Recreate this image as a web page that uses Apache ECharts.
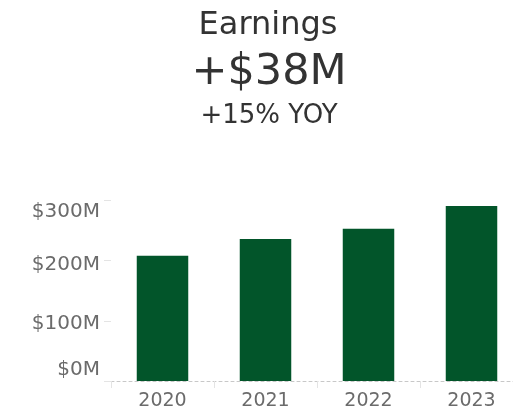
<!DOCTYPE html>
<html>
<head>
<meta charset="utf-8">
<script src="https://cdn.jsdelivr.net/npm/echarts@6/dist/echarts.min.js"></script>
<style>html,body{margin:0;padding:0;background:#fff}#c{width:513px;height:419px}</style>
</head>
<body>
<div id="c"></div>
<script>
const categories = ['2020', '2021', '2022', '2023'];
const earnings = [208, 236, 253, 291];
const yTicks = [0, 100, 200, 300];
const titleText = 'Earnings';
const changeText = '+$38M';
const yoyText = '+15% YOY';

const FONT = 'DejaVu Sans';
const chart = echarts.init(document.getElementById('c'), null, {renderer: 'canvas'});
const LC = '#6b6b6b';
const labelRich = {
  l0: {padding: [0, 0, 22, 0], fontFamily: FONT, fontSize: 20, color: LC},
  l1: {padding: [6, 0, 0, 0], fontFamily: FONT, fontSize: 20, color: LC},
  l2: {padding: [8, 0, 0, 0], fontFamily: FONT, fontSize: 20, color: LC},
  l3: {padding: [22, 0, 0, 0], fontFamily: FONT, fontSize: 20, color: LC}
};
chart.setOption({
  animation: false,
  backgroundColor: '#fff',
  graphic: [
    {type: 'text', x: 268, y: 25.5, style: {text: titleText, font: '32px "DejaVu Sans"', fill: '#333', align: 'center', verticalAlign: 'middle'}},
    {type: 'text', x: 269, y: 72.5, style: {text: changeText, font: '43px "DejaVu Sans"', fill: '#333', align: 'center', verticalAlign: 'middle'}},
    {type: 'text', x: 269, y: 116, style: {text: yoyText, font: '26px "DejaVu Sans"', fill: '#333', align: 'center', verticalAlign: 'middle'}}
  ],
  grid: {left: 111, width: 412, top: 200.5, bottom: 38, containLabel: false, outerBoundsMode: 'none'},
  xAxis: {
    type: 'category',
    data: categories,
    axisLine: {show: true, lineStyle: {color: '#c8c8c8', type: [3, 3], width: 1}},
    axisTick: {show: true, length: 7, lineStyle: {color: '#e4e4e4'}},
    axisLabel: {fontFamily: FONT, fontSize: 19, color: LC, margin: 11}
  },
  yAxis: {
    type: 'value',
    min: 0, max: 300, interval: 100,
    axisLine: {show: false},
    axisTick: {show: true, length: 7, lineStyle: {color: '#e4e4e4'}},
    splitLine: {show: false},
    axisLabel: {
      margin: 11,
      formatter: function (v) {
        const i = yTicks.indexOf(v);
        return '{l' + i + '|$' + v + 'M}';
      },
      rich: labelRich
    }
  },
  series: [{
    type: 'bar',
    data: earnings,
    barWidth: '50%',
    itemStyle: {color: '#02552A'}
  }]
});
</script>
</body>
</html>
